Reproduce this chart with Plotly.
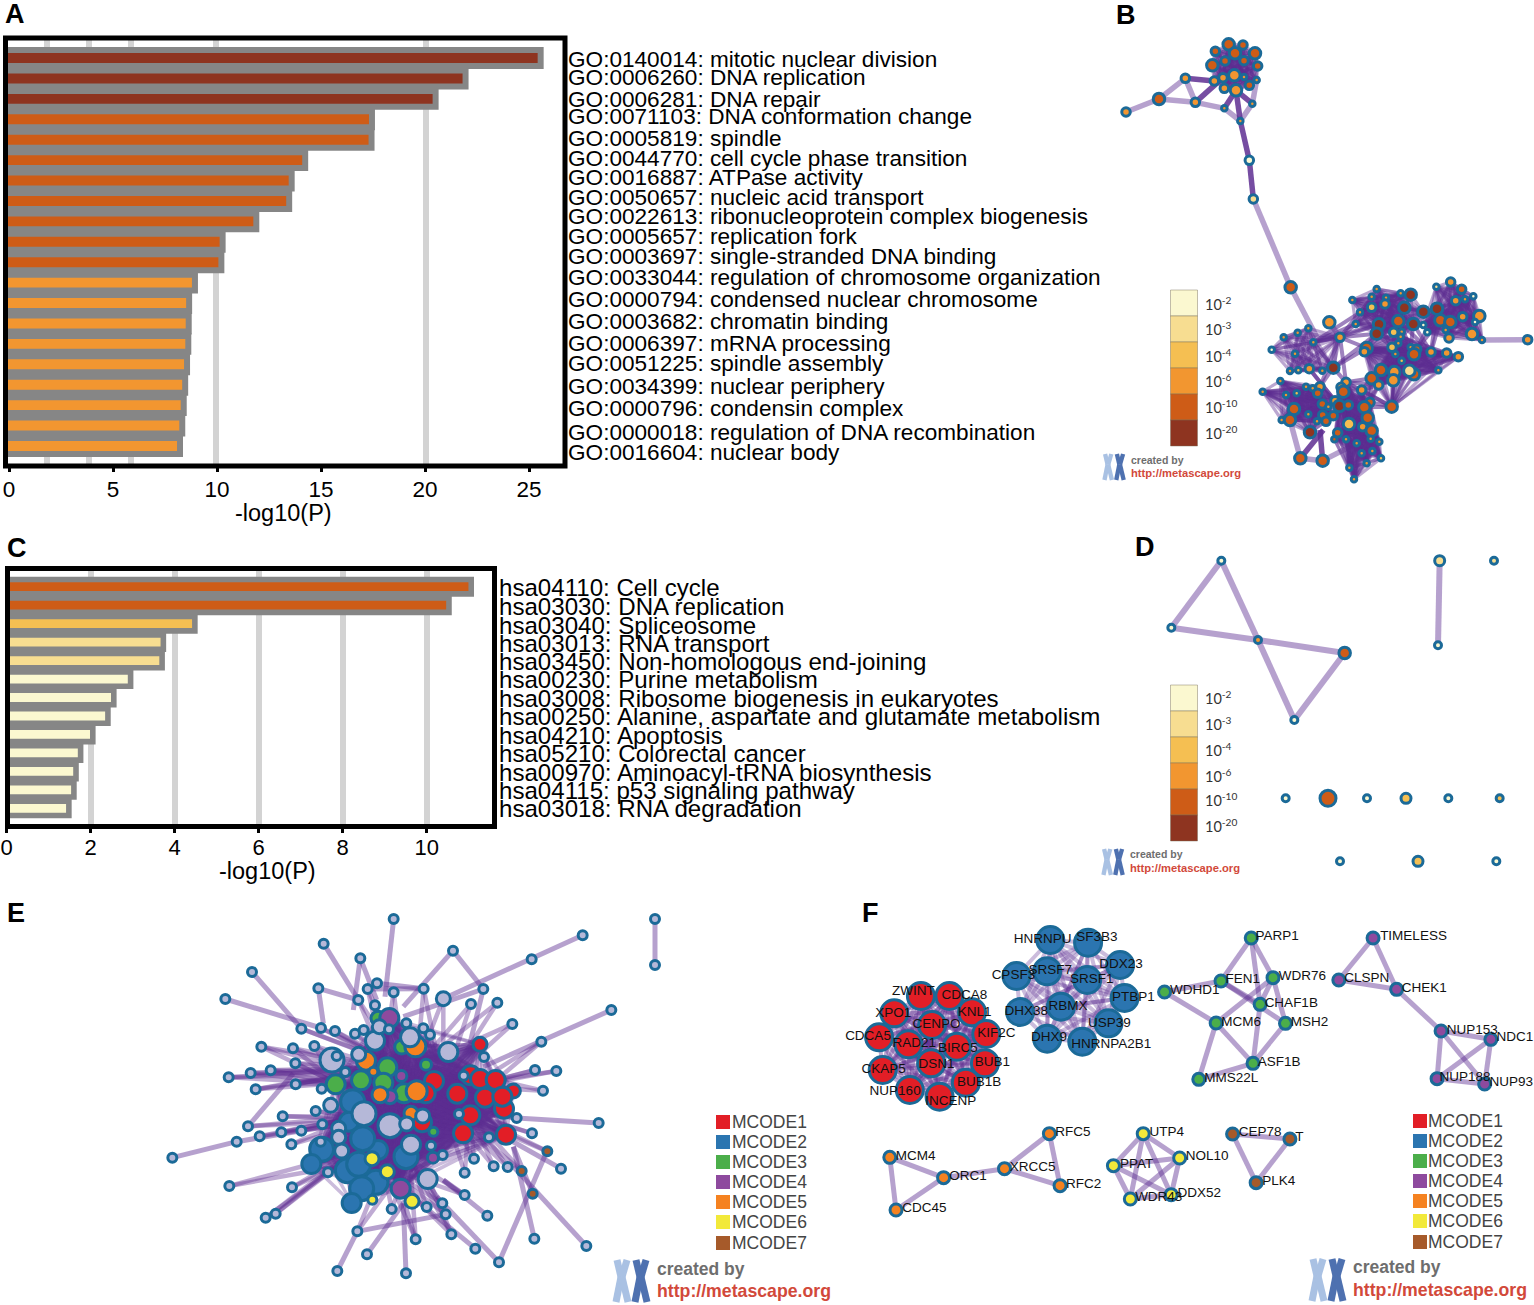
import plotly.graph_objects as go

W, H = 1534, 1305

# ---------------- Panel A data ----------------
go_terms = ["GO:0140014: mitotic nuclear division", "GO:0006260: DNA replication", "GO:0006281: DNA repair",
            "GO:0071103: DNA conformation change", "GO:0005819: spindle", "GO:0044770: cell cycle phase transition",
            "GO:0016887: ATPase activity", "GO:0050657: nucleic acid transport",
            "GO:0022613: ribonucleoprotein complex biogenesis", "GO:0005657: replication fork",
            "GO:0003697: single-stranded DNA binding", "GO:0033044: regulation of chromosome organization",
            "GO:0000794: condensed nuclear chromosome", "GO:0003682: chromatin binding", "GO:0006397: mRNA processing",
            "GO:0051225: spindle assembly", "GO:0034399: nuclear periphery", "GO:0000796: condensin complex",
            "GO:0000018: regulation of DNA recombination", "GO:0016604: nuclear body"]
go_values = [25.56, 21.95, 20.51, 17.45, 17.43, 14.24, 13.59, 13.47, 11.89, 10.27, 10.21, 8.94, 8.66, 8.64, 8.62,
             8.56, 8.47, 8.40, 8.33, 8.22]
go_classes = [5, 5, 5, 4, 4, 4, 4, 4, 4, 4, 4, 3, 3, 3, 3, 3, 3, 3, 3, 3]
go_label_rows = [60, 78, 99, 117, 138, 159, 177, 198, 216, 236, 257, 278, 299, 322, 343, 364, 386, 408, 432, 452]
go_grid = [1.83, 3.85, 5.86, 9.93, 20.07]
go_ticks = [0, 5, 10, 15, 20, 25]

# ---------------- Panel C data ----------------
kegg_terms = ["hsa04110: Cell cycle", "hsa03030: DNA replication", "hsa03040: Spliceosome", "hsa03013: RNA transport",
              "hsa03450: Non-homologous end-joining", "hsa00230: Purine metabolism",
              "hsa03008: Ribosome biogenesis in eukaryotes", "hsa00250: Alanine, aspartate and glutamate metabolism",
              "hsa04210: Apoptosis", "hsa05210: Colorectal cancer", "hsa00970: Aminoacyl-tRNA biosynthesis",
              "hsa04115: p53 signaling pathway", "hsa03018: RNA degradation"]
kegg_values = [11.06, 10.53, 4.48, 3.73, 3.70, 2.95, 2.55, 2.41, 2.05, 1.76, 1.65, 1.60, 1.48]
kegg_classes = [4, 4, 2, 1, 1, 0, 0, 0, 0, 0, 0, 0, 0]
kegg_label_rows = [588, 606, 625, 643, 661, 680, 698, 716, 735, 753, 772, 790, 808]
kegg_grid = [2, 4, 6, 8, 10]
kegg_ticks = [0, 2, 4, 6, 8, 10]

# ---------------- Panel B data: (x, y, weight, p-class) ----------------
b_top = [(416,133,3,4),(459,135,2,4),(376,154,2,4),(435,160,3,4),(495,160,3,4),(405,183,2,4),(462,182,2,4),
         (367,196,3,4),(503,198,2,4),(433,226,3,3),(399,233,2,3),(373,243,2,3),(462,231,1,3),(478,256,2,4),
         (500,240,1,3),(403,265,2,3),(438,271,3,3)]
b_chain = [(286,235,2,3),(316,307,2,3),(207,297,3,4),(108,336,2,3),(403,325,1,3),(487,311,1,3),(451,363,1,3),
           (478,481,2,0),(490,597,2,1),(602,862,3,4),(718,967,3,3),(1313,1019,2,3),(631,1375,3,4),(698,1382,3,4)]
b_light_links = [((108,336),(207,297)),((207,297),(286,235)),((207,297),(316,307)),((286,235),(316,307)),
                 ((316,307),(403,325)),((403,325),(451,363)),((487,311),(451,363)),((500,240),(487,311)),
                 ((490,597),(602,862)),((602,862),(680,1010)),((1176,1020),(1313,1019)),((631,1375),(698,1382)),
                 ((631,1375),(600,1260)),((698,1382),(800,1330)),((718,967),(750,1012)),((740,1000),(730,1103))]
b_dark_links = [((286,235),(373,243)),((316,307),(399,233)),((451,363),(478,481)),((478,481),(490,597)),
                ((451,363),(438,271)),((403,325),(438,271)),((487,311),(438,271)),((631,1375),(700,1290)),
                ((698,1382),(690,1290))]
b_north = [(860,867,1,3),(787,900,1,3),(845,890,1,3),(888,893,1,3),(845,922,2,2),(885,912,2,3),(810,937,1,3),
           (797,972,1,3),(867,973,3,5),(860,1001,3,5),(932,880,1,3),(962,884,3,5),(943,923,3,5),(925,963,3,4),
           (970,972,3,5),(1000,935,3,5),(911,997,2,2),(935,995,1,3)]
b_east = [(1041,926,3,5),(1039,860,1,1),(1082,846,2,3),(1115,868,2,4),(1150,889,1,0),(1097,902,2,3),(1125,898,1,3),
          (1168,948,3,3),(1155,966,1,0),(1118,950,2,3),(1051,961,3,4),(1081,966,3,4),(1067,990,1,3),(1146,1002,3,3),
          (1176,1020,1,3),(1077,1014,2,3),(1000,975,1,0),(1012,997,1,0)]
b_mid = [(830,1044,3,4),(823,1055,2,3),(906,1042,2,2),(932,1010,1,3),(925,1030,1,3),(962,1042,1,3),(980,1048,2,4),
         (972,1063,3,4),(1023,1056,2,3),(916,1062,1,3),(1070,1059,2,3),(1105,1070,2,3),(935,1082,1,2),(1045,1111,1,3),
         (873,1110,3,4),(913,1116,3,3),(972,1123,3,4),(958,1112,3,1),(910,1141,3,3),(845,1135,3,4),(866,1155,2,3),
         (905,1220,3,4)]
b_west = [(545,1049,1,0),(581,1012,1,3),(623,998,1,3),(655,985,1,3),(670,1027,1,3),(615,1061,1,3),(750,1012,2,3),
          (730,1103,3,5),(658,1106,2,3),(625,1111,1,2),(600,1113,1,3),(697,1112,1,3)]
b_sw = [(571,1143,1,3),(518,1175,1,3),(648,1160,1,3),(668,1165,1,3),(690,1160,2,3),(683,1180,2,4),(620,1180,1,2),
        (588,1185,1,3),(612,1227,3,4),(655,1243,1,3),(575,1260,1,3),(600,1260,3,4),(697,1212,2,4),(715,1220,1,3),
        (735,1202,2,3),(698,1245,2,4),(730,1247,2,4),(681,1264,1,3),(708,1264,2,4),(660,1297,3,5)]
b_south = [(768,1147,2,3),(753,1162,2,3),(760,1175,3,4),(815,1170,2,3),(748,1218,3,5),(775,1215,2,4),(840,1207,2,4),
           (823,1222,3,4),(833,1253,3,4),(777,1272,3,2),(818,1280,2,3),(845,1292,3,4),(743,1298,2,4),(733,1318,1,4),
           (768,1318,1,3),(800,1330,1,3),(842,1316,1,3),(868,1325,1,3),(815,1360,1,3),(847,1353,1,3),(873,1375,1,2),
           (830,1390,1,3),(778,1403,1,3),(792,1438,1,3)]
b_bridges = [[(867,973),(925,963),(970,972),(860,1001)], [(830,1044),(906,1042),(962,1042),(1023,1056)],
             [(1041,926),(1051,961)], [(970,972),(1000,975),(980,1048),(1023,1056)],
             [(730,1103),(750,1012)], [(830,1044),(860,1001),(690,1160),(768,1147),(670,1027)],
             [(845,1135),(866,1155),(905,1220)], [(815,1170),(823,1222),(840,1207),(768,1147)],
             [(735,1202),(748,1218)], [(690,1160),(768,1147),(833,1253),(658,1106)],
             [(750,1012),(670,1027)], [(797,972),(810,937),(867,973)]]

# ---------------- Panel D data ----------------
d_nodes = [(394,62,1,0),(244,263,1,0),(504,300,1,3),(764,339,3,4),(613,540,1,0),(1049,62,2,1),(1044,316,1,0),
           (1212,62,1,1),(587,775,1,0),(714,775,4,4),(831,775,1,0),(948,775,2,2),(1075,775,1,0),(1229,775,1,2),
           (750,964,1,0),(984,964,2,2),(1219,964,1,0)]
d_links = [((394,62),(244,263)),((394,62),(504,300)),((244,263),(504,300)),((504,300),(764,339)),
           ((504,300),(613,540)),((764,339),(613,540)),((1049,62),(1044,316))]
log_labels = ["-2", "-3", "-4", "-6", "-10", "-20"]

# ---------------- Panel E data ----------------
e_leaf = [(731,57),(521,131),(631,175),(909,152),(1298,106),(1145,178),(1384,330),(306,216),(226,297),(505,265),
          (653,267),(681,250),(731,277),(821,266),(1000,267),(625,300),(675,316),(963,312),(1042,308),(1087,372),
          (454,386),(513,384),(555,393),(615,401),(641,390),(717,388),(769,370),(820,385),(840,404),(334,440),
          (429,445),(493,438),(1174,425),(436,490),(236,532),(302,519),(362,511),(586,516),(437,553),(317,568),
          (515,566),(1155,510),(1219,513),(1179,572),(398,649),(497,633),(294,679),(517,673),(394,697),(454,692),
          (329,709),(260,725),(424,733),(512,725),(67,773),(1100,654),(1346,669),(1146,700),(1017,712),(927,642),
          (1002,471),(941,527),(560,468),(534,817),(238,858),(426,862),(347,953),(377,941),(622,994),(651,1063),
          (562,1113),(768,1120),(725,927),(797,1018),(830,921),(877,910),(887,943),(904,1003),(976,1046),(1012,947),
          (1047,1087),(1153,1016),(1309,1038),(944,885),(944,818),(972,776),(1031,799),(1073,801),(1233,806),
          (878,765),(843,737)]
e_lav = [(880,296,2),(675,422,3),(895,456,3),(546,480,4),(626,463,2),(542,616,2),(642,641,4),(720,677,4),(783,734,3),
         (770,672,2),(566,685,2),(566,712,2),(575,753,2),(833,837,3),(818,648,2),(780,412,3),(688,380,2)]
e_m1 = [(990,433,2),(962,526,3),(990,537,3),(1037,540,3),(1090,573,2),(922,581,3),(1005,593,3),(1062,626,3),(1057,590,3),
        (852,543,3),(827,580,3),(961,646,3),(939,700,3),(1068,704,3),(816,667,3)]
e_m2 = [(608,605,4),(597,665,3),(684,750,3),(515,748,4),(484,792,3),(592,812,4),(638,716,4),(678,847,4),(626,793,4),
        (635,866,4),(605,909,3),(768,770,4)]
e_m3 = [(684,355,2),(755,441,2),(712,502,3),(828,494,1.5),(557,553,3),(633,541,3),(700,548,3),(762,580,3),(850,695,1)]
e_m4 = [(718,354,3),(754,528,1.5),(720,590,2),(752,866,3),(849,773,1.5)]
e_m5 = [(648,482,3),(670,515,1),(690,584,2.5),(783,640,2),(796,439,3.5),(800,574,3.5)]
e_m6 = [(666,776,2),(712,815,2),(667,899,1),(786,904,2)]
e_m7 = [(1192,754,1),(1115,813,1),(1148,881,1)]
e_extra = [(1515,57),(1515,195)]
e_links = [((731,57),(705,290)),((521,131),(625,300)),((631,175),(610,330)),((631,175),(680,300)),((909,152),(760,320)),
           ((909,152),(1000,267)),((1298,106),(880,296)),((1384,330),(1000,500)),((306,216),(454,386)),
           ((226,297),(513,384)),((505,265),(625,300)),((505,265),(520,370)),((653,267),(821,266)),((681,250),(821,266)),
           ((1000,267),(760,350)),((1000,267),(960,430)),((1346,669),(1100,654)),((67,773),(260,725)),((260,725),(454,692)),
           ((562,1113),(622,994)),((622,994),(887,943)),((651,1063),(760,910)),((768,1120),(760,910)),((797,1018),(760,900)),
           ((976,1046),(750,860)),((904,1003),(840,850)),((1047,1087),(860,890)),((1047,1087),(1190,755)),
           ((1153,1016),(1090,740)),((1309,1038),(1090,800)),((1012,947),(880,840)),((944,885),(880,840)),
           ((1233,806),(1080,720)),((1148,881),(1090,740)),((294,679),(430,520))]
e_fans = [([(334,440),(429,445),(236,532),(302,519),(362,511),(436,490),(437,553),(317,568),(493,438)],[(640,520),(700,500),(560,550)]),
          ([(398,649),(294,679),(394,697),(454,692),(329,709),(424,733),(497,633),(517,673)],[(620,650),(680,660)]),
          ([(238,858),(426,862),(347,953),(377,941)],[(600,760),(560,800)]),
          ([(454,386),(513,384),(555,393),(615,401),(641,390),(625,300),(675,316),(653,267),(731,277)],[(700,480),(760,500)]),
          ([(821,266),(880,296),(963,312),(1042,308),(1087,372),(769,370),(820,385),(840,404)],[(800,500),(880,560)]),
          ([(1155,510),(1219,513),(1179,572),(1174,425)],[(960,560),(1040,540)]),
          ([(1100,654),(1146,700),(1017,712),(972,776),(1031,799),(1073,801),(1192,754),(1115,813),(944,818),(878,765)],[(880,620),(960,640)]),
          ([(622,994),(725,927),(797,1018),(830,921),(877,910),(887,943),(944,885),(904,1003)],[(780,780),(700,800)])]
mcode_names = ["MCODE1", "MCODE2", "MCODE3", "MCODE4", "MCODE5", "MCODE6", "MCODE7"]

# ---------------- Panel F data: (label, x, y, label x, label y, module) ----------------
f_genes = [("ZWINT",182,288,165,275,0),("CDCA8",246,288,280,288,0),("XPO1",122,340,120,342,0),("KNL1",297,337,303,337,0),
           ("CENPO",207,375,217,375,0),("KIF2C",329,402,352,402,0),("CDCA5",88,412,63,410,0),("RAD21",154,433,167,432,0),
           ("BIRC5",263,440,265,447,0),("BUB1",326,490,343,488,0),("DSN1",205,490,217,493,0),("CKAP5",96,510,98,510,0),
           ("BUB1B",283,548,313,549,0),("NUP160",157,570,124,575,0),("INCENP",224,590,249,605,0),
           ("HNRNPU",473,120,456,120,1),("SF3B3",558,128,578,114,1),("DDX23",630,195,632,195,1),("CPSF3",397,228,390,226,1),
           ("SRSF7",466,214,473,211,1),("SRSF1",556,240,566,238,1),("PTBP1",640,294,660,292,1),("RBMX",497,320,513,320,1),
           ("DHX38",405,336,419,335,1),("USP39",604,370,606,370,1),("DHX9",466,416,470,414,1),("HNRNPA2B1",545,425,610,434,1),
           ("PARP1",925,114,983,111,2),("FEN1",857,243,906,240,2),("WDR76",974,233,1040,229,2),("WDHD1",730,276,798,272,2),
           ("CHAF1B",945,313,1015,310,2),("MCM6",846,369,902,367,2),("MSH2",1002,370,1056,367,2),("ASF1B",929,490,988,487,2),
           ("MMS22L",807,538,880,535,2),
           ("TIMELESS",1199,114,1290,110,3),("CLSPN",1122,240,1185,236,3),("CHEK1",1252,268,1314,265,3),("NUP153",1352,393,1422,391,3),
           ("NDC1",1464,418,1518,414,3),("NUP188",1343,536,1406,534,3),("NUP93",1450,552,1510,548,3),
           ("RFC5",471,701,524,697,4),("MCM4",112,772,170,769,4),("XRCC5",370,806,433,803,4),("ORC1",233,833,288,830,4),
           ("RFC2",495,857,548,853,4),("CDC45",126,930,190,927,4),
           ("UTP4",682,701,735,697,5),("NOL10",764,774,826,770,5),("PPAT",615,797,667,794,5),("DDX52",745,884,808,881,5),
           ("WDR43",653,897,717,894,5),
           ("CEP78",883,702,945,697,6),("T",1012,717,1033,713,6),("PLK4",936,848,987,845,6)]
f_links = [("PARP1","FEN1"),("PARP1","WDR76"),("PARP1","CHAF1B"),("FEN1","WDHD1"),("FEN1","CHAF1B"),("FEN1","MSH2"),
           ("WDR76","MSH2"),("WDR76","MCM6"),("WDR76","CHAF1B"),("CHAF1B","ASF1B"),("MCM6","WDHD1"),("MCM6","ASF1B"),
           ("MCM6","MMS22L"),("MSH2","ASF1B"),("ASF1B","MMS22L"),
           ("TIMELESS","CLSPN"),("TIMELESS","CHEK1"),("CLSPN","CHEK1"),("CHEK1","NUP153"),("NUP153","NDC1"),("NUP153","NUP188"),
           ("NUP153","NUP93"),("NDC1","NUP188"),("NDC1","NUP93"),("NUP188","NUP93"),
           ("MCM4","ORC1"),("MCM4","CDC45"),("ORC1","CDC45"),("ORC1","XRCC5"),("XRCC5","RFC5"),("XRCC5","RFC2"),("RFC5","RFC2"),
           ("CEP78","T"),("CEP78","PLK4"),("T","PLK4")]

# ---------------- Styles ----------------
P_COLORS = ["#FBF8D0", "#F7DD91", "#F5BF52", "#F29630", "#CE5C17", "#8E3420"]
M_COLORS = ["#E21E26", "#2B75B0", "#4BAE4A", "#8E4A9E", "#F58220", "#F2E93A", "#A65A2A"]
GRAY, GRID, EDGE = "#868686", "#D3D3D3", "#1B6A98"
LIGHT = "rgba(94,46,146,0.45)"
DEEP = "rgba(94,46,146,0.42)"
SANS = "Liberation Sans"


def px(x):
    return x / W


def py(y):
    return 1 - y / H


fig = go.Figure()
shapes, notes = [], []


def text(x, y, s, size, color="black", font=SANS, anchor="left"):
    notes.append(dict(x=px(x), y=py(y), xref="paper", yref="paper", text=s, showarrow=False, xanchor=anchor,
                      yanchor="middle", font=dict(size=size, color=color, family=font), borderpad=0, borderwidth=0))


def links(ref, pairs, color=LIGHT, width=5):
    xs, ys = [], []
    for a, b in pairs:
        xs += [a[0], b[0], None]
        ys += [a[1], b[1], None]
    fig.add_trace(go.Scatter(x=xs, y=ys, mode="lines", line=dict(color=color, width=width), hoverinfo="skip",
                             showlegend=False, xaxis="x" + ref, yaxis="y" + ref))


def stars(ref, pts, color=DEEP, width=3.0):
    for i, a in enumerate(pts):
        if pts[i + 1:]:
            links(ref, [(a, b) for b in pts[i + 1:]], color, width)


def nodes(ref, xs, ys, sizes, colors, lw=3):
    fig.add_trace(go.Scatter(x=xs, y=ys, mode="markers", hoverinfo="skip", showlegend=False,
                             marker=dict(size=sizes, color=colors, line=dict(color=EDGE, width=lw), opacity=1),
                             xaxis="x" + ref, yaxis="y" + ref))


def bars(ref, values, classes, stroke):
    # bars start left of the frame so that the grey stroke only shows above, below and at the tip
    fig.add_trace(go.Bar(x=[v + 1 for v in values], base=-1, y=list(range(len(values))), orientation="h", width=0.78,
                         showlegend=False,
                         marker=dict(color=[P_COLORS[c] for c in classes], line=dict(color=GRAY, width=stroke)),
                         hoverinfo="skip", xaxis="x" + ref, yaxis="y" + ref))


def logo(x, y, k):
    def arm(p, q, color, w):
        shapes.append(dict(type="line", xref="paper", yref="paper", x0=px(x + p[0] * k), y0=py(y + p[1] * k),
                           x1=px(x + q[0] * k), y1=py(y + q[1] * k), line=dict(color=color, width=w * k), layer="above"))
    for dx, c in ((0, "#A9C1E3"), (19, "#4E71B0")):
        arm((5 + dx, 0), (9 + dx, 17), c, 7)
        arm((15 + dx, 0), (10 + dx, 17), c, 7)
        arm((9 + dx, 17), (4 + dx, 42), c, 7)
        arm((10 + dx, 17), (16 + dx, 42), c, 7)


# ---------------- Bars ----------------
bars("", go_values, go_classes, 6)
bars("2", kegg_values, kegg_classes, 5.6)

# ---------------- Panel B ----------------
links("3", b_light_links, LIGHT, 5.5)
links("3", b_dark_links, "rgba(94,46,146,0.85)", 5.5)
b_groups = [b_top, b_north, b_east, b_mid, b_west, b_sw, b_south]
for g in b_groups:
    stars("3", [(n[0], n[1]) for n in g], DEEP, 3.2)
for i in range(0, len(b_bridges), 2):
    links("3", [(a, c) for a in b_bridges[i] for c in b_bridges[i + 1]], "rgba(94,46,146,0.6)", 4)
all_b = b_chain + sum(b_groups, [])
B_SIZE = {1: 5.5, 2: 8.5, 3: 11.5}
nodes("3", [n[0] for n in all_b], [n[1] for n in all_b], [B_SIZE[n[2]] for n in all_b], [P_COLORS[n[3]] for n in all_b])

# ---------------- Panel D ----------------
links("4", d_links, LIGHT, 6)
D_SIZE = {1: 7, 2: 10, 3: 11.5, 4: 16}
nodes("4", [n[0] for n in d_nodes], [n[1] for n in d_nodes], [D_SIZE[n[2]] for n in d_nodes],
      [P_COLORS[n[3]] for n in d_nodes], 3)

# ---------------- Panel E ----------------
links("5", e_links, LIGHT, 5)
links("5", [(e_extra[0], e_extra[1])], LIGHT, 5)
for leaves, targets in e_fans:
    for t in targets:
        links("5", [(l, t) for l in leaves], "rgba(94,46,146,0.40)", 4.5)
e_core = [(n[0], n[1]) for g in (e_m1, e_m2, e_m3, e_m4, e_m5) for n in g]
stars("5", e_core, "rgba(94,46,146,0.32)", 3.5)
E_SIZE = {1: 9, 1.5: 11, 2: 14, 2.5: 16, 3: 19, 3.5: 21, 4: 24}
ex, ey, es, ec = [], [], [], []
for grp, col in ((e_m2, M_COLORS[1]), (e_m3, M_COLORS[2]), (e_m4, M_COLORS[3]), (e_m1, M_COLORS[0]), (e_m5, M_COLORS[4]),
                 (e_m6, M_COLORS[5]), (e_m7, M_COLORS[6]), (e_lav, "#B5B8D8")):
    for n in grp:
        ex.append(n[0]); ey.append(n[1]); es.append(E_SIZE[n[2]]); ec.append(col)
for n in e_leaf + e_extra:
    ex.append(n[0]); ey.append(n[1]); es.append(E_SIZE[1]); ec.append("#B5B8D8")
nodes("5", ex, ey, es, ec)

# ---------------- Panel F ----------------
pos = {g[0]: (g[1], g[2]) for g in f_genes}
links("6", [(pos[a], pos[b]) for a, b in f_links], LIGHT, 5)
stars("6", [pos[g[0]] for g in f_genes if g[5] == 0], "rgba(94,46,146,0.40)", 4)
stars("6", [pos[g[0]] for g in f_genes if g[5] == 1], "rgba(94,46,146,0.32)", 4)
stars("6", [pos[g[0]] for g in f_genes if g[5] == 5], LIGHT, 5)
nodes("6", [g[1] for g in f_genes], [g[2] for g in f_genes], [27 if g[5] < 2 else 12 for g in f_genes],
      [M_COLORS[g[5]] for g in f_genes], 3)
fig.add_trace(go.Scatter(x=[g[3] for g in f_genes], y=[g[4] for g in f_genes], text=[g[0] for g in f_genes], mode="text",
                         textposition="middle center", textfont=dict(size=13.5, color="#111", family=SANS),
                         hoverinfo="skip", showlegend=False, xaxis="x6", yaxis="y6"))

# ---------------- Frames, labels, legends ----------------
for x0, y0, x1, y1 in ((5.5, 38, 565, 466), (7.5, 568.5, 494.5, 826.5)):
    shapes.append(dict(type="rect", xref="paper", yref="paper", x0=px(x0), y0=py(y0), x1=px(x1), y1=py(y1),
                       line=dict(color="black", width=5), layer="above"))
for t, y in zip(go_terms, go_label_rows):
    text(567.5, y, t, 22.6)
for t, y in zip(kegg_terms, kegg_label_rows):
    text(499, y, t, 24.1)
text(283, 513, "-log10(P)", 23.5, anchor="center")
text(267, 871, "-log10(P)", 23.5, anchor="center")
for s, x, y in (("A", 15, 14), ("B", 1126, 15), ("C", 17, 548), ("D", 1145, 547), ("E", 16, 913), ("F", 870, 913)):
    text(x, y, "<b>%s</b>" % s, 27, anchor="center")

for top, rows, in ((290, [303, 329, 355, 380, 406, 432]), (685, [697, 723, 749, 775, 800, 826])):
    for i, c in enumerate(P_COLORS):
        shapes.append(dict(type="rect", xref="paper", yref="paper", x0=px(1170.5), x1=px(1197.5), y0=py(top + i * 26),
                           y1=py(top + (i + 1) * 26), fillcolor=c, line=dict(color="rgba(120,110,90,0.45)", width=1), layer="above"))
    for lab, y in zip(log_labels, rows):
        text(1205, y, "10<sup>%s</sup>" % lab, 14.5, "#333", "Lato")

for sq_x, tx, rows in ((716, 732, [1122, 1142, 1162, 1182, 1202, 1222, 1243]), (1413, 1428, [1121, 1141, 1161, 1181, 1201, 1221, 1242])):
    for name, c, y in zip(mcode_names, M_COLORS, rows):
        shapes.append(dict(type="rect", xref="paper", yref="paper", x0=px(sq_x), x1=px(sq_x + 14), y0=py(y - 7), y1=py(y + 7),
                           fillcolor=c, line=dict(width=0), layer="above"))
        text(tx, y, name, 17.5, "#444")

for lx, ly, k, tx, ty1, ty2, s1, s2 in ((1102, 454, 0.62, 1131, 460, 473, 10.5, 11.2), (1101, 849, 0.62, 1130, 854, 868, 10.5, 11.2),
                                        (612, 1260, 1.0, 657, 1269, 1291, 17.5, 17.7), (1308, 1259, 1.0, 1353, 1267, 1290, 17.5, 17.7)):
    logo(lx, ly, k)
    text(tx, ty1, "<b>created by</b>", s1, "#6E6E6E")
    text(tx, ty2, "<b>http://metascape.org</b>", s2, "#D2493A")


def span(a, b):
    return [a / W, b / W]


def vspan(a, b):
    return [1 - b / H, 1 - a / H]


hidden = dict(visible=False, showgrid=False, zeroline=False)
layout = dict(
    width=W, height=H, margin=dict(l=0, r=0, t=0, b=0, pad=0, autoexpand=False), paper_bgcolor="white",
    plot_bgcolor="rgba(0,0,0,0)", showlegend=False, barmode="overlay", hovermode=False, shapes=shapes, annotations=notes,
    xaxis=dict(domain=span(5.5, 565), range=[(5.5 - 9) / 20.8, (565 - 9) / 20.8], anchor="y", tickmode="array", tickvals=go_ticks,
               ticks="outside", ticklen=5, tickwidth=3, tickcolor="black", tickfont=dict(size=22.5, color="black", family=SANS),
               showgrid=False, zeroline=False, showline=False, ticklabelstandoff=-2, ticklabeloverflow="allow",
               minor=dict(tickmode="array", tickvals=go_grid, showgrid=True, gridcolor=GRID, gridwidth=5.5, ticks="")),
    yaxis=dict(domain=vspan(38, 466), range=[(466 - 58) / 20.42, (38 - 58) / 20.42], anchor="x", visible=False, showgrid=False, zeroline=False),
    xaxis2=dict(domain=span(5, 494.5), range=[(5 - 6.7) / 42, (494.5 - 6.7) / 42], anchor="y2", tickmode="array", tickvals=kegg_ticks,
                ticks="outside", ticklen=5, tickwidth=3, tickcolor="black", tickfont=dict(size=22, color="black", family=SANS),
                showgrid=False, zeroline=False, showline=False, ticklabelstandoff=-4, ticklabeloverflow="allow",
                minor=dict(tickmode="array", tickvals=kegg_grid, showgrid=True, gridcolor=GRID, gridwidth=5.5, ticks="")),
    yaxis2=dict(domain=vspan(568.5, 826.5), range=[(826.5 - 586.7) / 18.47, (568.5 - 586.7) / 18.47], anchor="x2", visible=False, showgrid=False, zeroline=False),
    xaxis3=dict(domain=span(1090, 1534), range=[0, 1332], anchor="y3", **hidden),
    yaxis3=dict(domain=vspan(0, 500), range=[1500, 0], anchor="x3", **hidden),
    xaxis4=dict(domain=span(1090, 1534), range=[0, 1332], anchor="y4", **hidden),
    yaxis4=dict(domain=vspan(540, 890), range=[1050, 0], anchor="x4", **hidden),
    xaxis5=dict(domain=span(150, 670), range=[0, 1560], anchor="y5", **hidden),
    yaxis5=dict(domain=vspan(900, 1300), range=[1200, 0], anchor="x5", **hidden),
    xaxis6=dict(domain=span(840, 1534), range=[0, 1561], anchor="y6", **hidden),
    yaxis6=dict(domain=vspan(900, 1300), range=[1200, 0], anchor="x6", **hidden),
)
fig.update_layout(**layout)
fig.update_xaxes(automargin=False)
fig.update_yaxes(automargin=False)
fig.write_html("out.html", config={"displayModeBar": False}, post_script="document.body.style.margin='0';")
